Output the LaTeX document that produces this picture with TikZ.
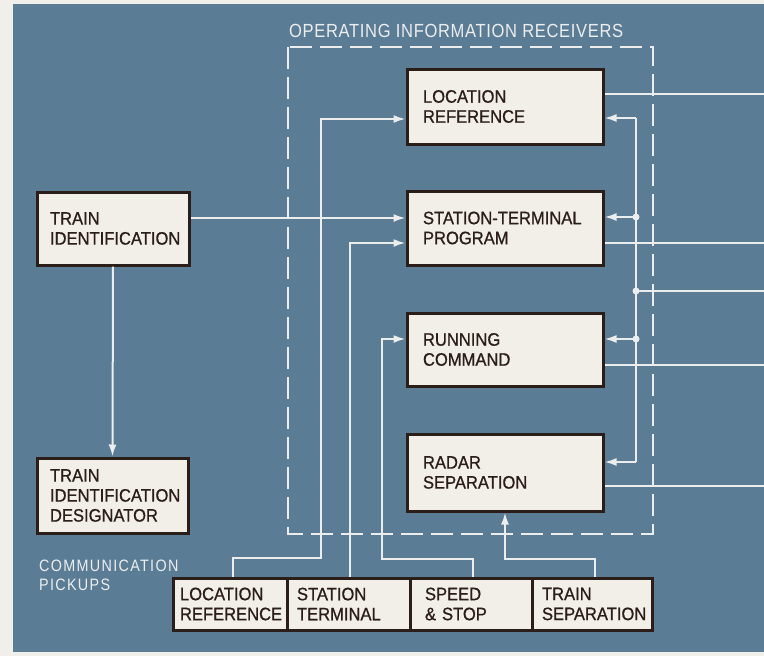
\documentclass[tikz,border=0pt]{standalone}
\usepackage{fontspec}
\setmainfont[FakeStretch=0.92,FakeBold=0.8]{Liberation Sans}
\newfontfamily\lblfam[FakeStretch=0.87,LetterSpace=8]{Liberation Sans}
\newfontfamily\titlefam[FakeStretch=0.87,LetterSpace=3.5]{Liberation Sans}
\usetikzlibrary{arrows.meta}
\definecolor{bg}{RGB}{91,124,149}
\definecolor{paper}{RGB}{241,239,233}
\definecolor{boxfill}{RGB}{242,239,232}
\definecolor{ink}{RGB}{43,29,24}
\definecolor{wline}{RGB}{236,238,238}
\begin{document}
\begin{tikzpicture}[x=1pt,y=-1pt,
  box/.style={draw=ink,fill=boxfill,line width=3pt,align=left,text=ink,
    font=\fontsize{18}{20}\selectfont,inner ysep=0pt},
  conn/.style={draw=wline,line width=2pt},
  arr/.style={conn,-{Latex[length=12pt,width=8pt]}},
  jdot/.style={circle,fill=wline,inner sep=0pt,minimum size=7pt},
  lbl/.style={text=wline,inner sep=0pt,align=left}]
\useasboundingbox (0,0) rectangle (764,656);
\fill[paper] (0,0) rectangle (764,656);
\fill[bg] (13,4) rectangle (764,652);

% receivers enclosure
\draw[wline,line width=2pt,dash pattern=on 22pt off 8pt] (288,47) rectangle (653,534);
\node[lbl,anchor=north west,font=\titlefam\fontsize{19}{20}\selectfont] (title) at (289,24) {OPERATING INFORMATION RECEIVERS};
\node[lbl,anchor=north west,font=\lblfam\fontsize{16.5}{19}\selectfont] (pick) at (39,560) {COMMUNICATION\\PICKUPS};

% receiver boxes
\node[box,minimum width=196pt,minimum height=75pt,inner xsep=16pt,text width=164pt] (LR) at (505,106.5) {LOCATION\\REFERENCE};
\node[box,minimum width=196pt,minimum height=74pt,inner xsep=16pt,text width=164pt] (STP) at (505,228) {\mbox{STATION-TERMINAL}\\PROGRAM};
\node[box,minimum width=196pt,minimum height=73pt,inner xsep=16pt,text width=164pt] (RC) at (505,349.5) {RUNNING\\COMMAND};
\node[box,minimum width=196pt,minimum height=77pt,inner xsep=16pt,text width=164pt] (RS) at (505,472.5) {RADAR\\SEPARATION};

% left boxes
\node[box,minimum width=152pt,minimum height=73pt,inner xsep=13pt,text width=126pt] (TI) at (113,228.5) {TRAIN\\IDENTIFICATION};
\node[box,minimum width=151pt,minimum height=75pt,inner xsep=13pt,text width=125pt] (TID) at (112.5,495.5) {TRAIN\\IDENTIFICATION\\DESIGNATOR};

% pickups
\node[box,minimum width=114pt,minimum height=52pt,inner xsep=7pt,text width=100pt] (bLR) at (230,604) {LOCATION\\REFERENCE};
\node[box,minimum width=123pt,minimum height=52pt,inner xsep=10pt,text width=103pt] (bST) at (348.5,604) {STATION\\TERMINAL};
\node[box,minimum width=122pt,minimum height=52pt,inner xsep=15pt,text width=92pt] (bSS) at (471,604) {SPEED\\\&~STOP};
\node[box,minimum width=120pt,minimum height=52pt,inner xsep=10pt,text width=100pt] (bTS) at (592,604) {TRAIN\\SEPARATION};

% ports
\coordinate (edge) at (764,0);
\coordinate (bus) at (636,291);
\coordinate (lrL) at ([yshift=-12.5pt]LR.west);
\coordinate (stpL1) at ([yshift=10pt]STP.west);
\coordinate (stpL2) at ([yshift=-15pt]STP.west);
\coordinate (rcL) at ([yshift=10.5pt]RC.west);
\coordinate (lrR) at ([yshift=-11.5pt]LR.east);
\coordinate (lrO) at ([yshift=12.5pt]LR.east);
\coordinate (stpR) at ([yshift=11pt]STP.east);
\coordinate (stpO) at ([yshift=-15pt]STP.east);
\coordinate (rcR) at ([yshift=10.5pt]RC.east);
\coordinate (rcO) at ([yshift=-15.5pt]RC.east);
\coordinate (rsR) at ([yshift=10.5pt]RS.east);
\coordinate (rsO) at ([yshift=-13.5pt]RS.east);

% left-side connectors
\draw[arr] (TI.east |- stpL1) -- (stpL1);
\draw[arr] (TI.south) -- (TID.north);
\draw[arr] ([xshift=3pt]bLR.north) |- (321,558) |- (lrL);
\draw[arr] ([xshift=1.5pt]bST.north) |- (stpL2);
\draw[arr] ([xshift=2pt]bSS.north) |- (382,559) |- (rcL);
\draw[arr] ([xshift=3pt]bTS.north) |- (RS.south |- 0,559) -- (RS.south);

% right-side bus
\draw[conn] (bus |- lrR) -- (bus |- rsR);
\draw[arr] (bus |- lrR) -- (lrR);
\draw[arr] (bus |- stpR) -- (stpR);
\draw[arr] (bus |- rcR) -- (rcR);
\draw[arr] (bus |- rsR) -- (rsR);
\draw[conn] (bus) -- (bus -| edge);
\node[jdot] (j1) at (bus |- stpR) {};
\node[jdot] (j2) at (bus) {};
\node[jdot] (j3) at (bus |- rcR) {};

% outputs
\draw[conn] (lrO) -- (lrO -| edge);
\draw[conn] (stpO) -- (stpO -| edge);
\draw[conn] (rcO) -- (rcO -| edge);
\draw[conn] (rsO) -- (rsO -| edge);
\end{tikzpicture}
\end{document}
